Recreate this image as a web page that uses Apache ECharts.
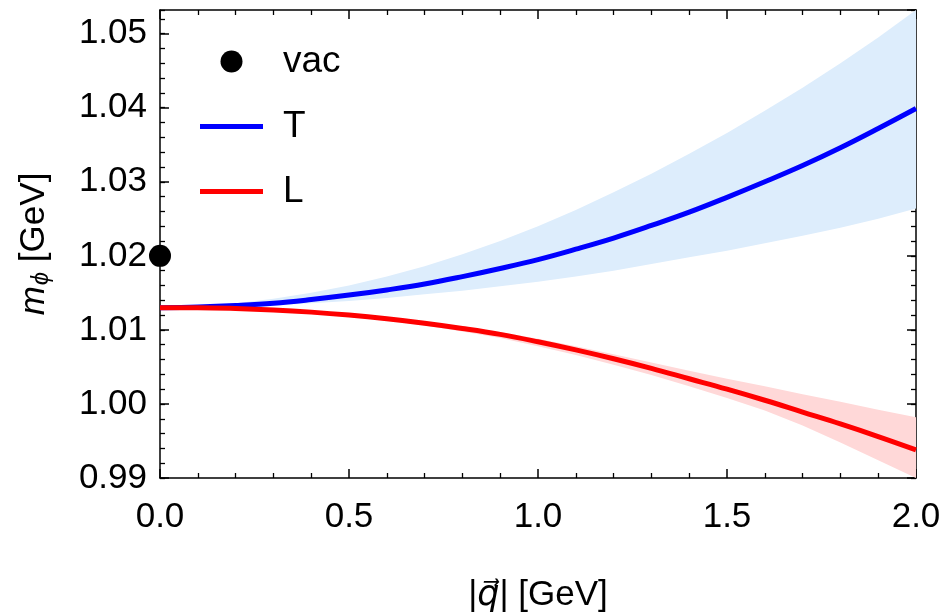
<!DOCTYPE html>
<html>
<head>
<meta charset="utf-8">
<script src="https://cdn.jsdelivr.net/npm/echarts@6/dist/echarts.min.js"></script>
<style>
  html, body { margin: 0; padding: 0; background: #fff; }
  #container { width: 945px; height: 612px; }
</style>
</head>
<body>
<div id="container"></div>
<script>
// momentum |q| in GeV
var qVals = [0.0, 0.1, 0.2, 0.3, 0.4, 0.5, 0.6, 0.7, 0.8, 0.9, 1.0,
             1.1, 1.2, 1.3, 1.4, 1.5, 1.6, 1.7, 1.8, 1.9, 2.0];
// transverse mode: central line + band
var mT     = [1.0130, 1.0131, 1.0133, 1.0136, 1.0141, 1.0147, 1.0154, 1.0162, 1.0172, 1.0183, 1.0195,
              1.0209, 1.0224, 1.0241, 1.0259, 1.0279, 1.0300, 1.0322, 1.0346, 1.0372, 1.0399];
var tUpper = [1.0130, 1.0132, 1.0136, 1.0142, 1.0150, 1.0160, 1.0172, 1.0186, 1.0202, 1.0220, 1.0240,
              1.0262, 1.0286, 1.0311, 1.0338, 1.0366, 1.0396, 1.0427, 1.0460, 1.0495, 1.0532];
var tLower = [1.0130, 1.0130, 1.0131, 1.0133, 1.0136, 1.0139, 1.0143, 1.0148, 1.0153, 1.0159, 1.0165,
              1.0172, 1.0180, 1.0189, 1.0198, 1.0207, 1.0217, 1.0227, 1.0238, 1.0250, 1.0264];
// longitudinal mode: central line + band
var mL     = [1.0130, 1.0130, 1.0129, 1.0127, 1.0124, 1.0120, 1.0115, 1.0109, 1.0102, 1.0094, 1.0084,
              1.0073, 1.0061, 1.0048, 1.0034, 1.0020, 1.0005, 0.9989, 0.9973, 0.9956, 0.9938];
var lUpper = [1.0130, 1.0130, 1.0129, 1.0128, 1.0125, 1.0121, 1.0117, 1.0111, 1.0104, 1.0097, 1.0088,
              1.0078, 1.0067, 1.0056, 1.0045, 1.0034, 1.0024, 1.0013, 1.0003, 0.9992, 0.9982];
var lLower = [1.0130, 1.0130, 1.0129, 1.0127, 1.0123, 1.0118, 1.0113, 1.0106, 1.0098, 1.0089, 1.0078,
              1.0066, 1.0053, 1.0039, 1.0024, 1.0008, 0.9991, 0.9971, 0.9948, 0.9924, 0.9900];
// vacuum mass
var vacQ = [0.0];
var vacM = [1.020];

var font = 'Liberation Sans';
var black = '#000';
var lineIcon = 'path://M0,0H63V5H0Z';

function pairs(xs, ys) {
    var out = [];
    for (var i = 0; i < xs.length; i++) out.push([xs[i], ys[i]]);
    return out;
}

// polygon between upper and lower curves
function bandRenderer(upper, lower, fill) {
    return function (params, api) {
        if (params.dataIndex !== 0) return;
        var pts = [];
        for (var i = 0; i < qVals.length; i++) pts.push(api.coord([qVals[i], upper[i]]));
        for (var j = qVals.length - 1; j >= 0; j--) pts.push(api.coord([qVals[j], lower[j]]));
        return {
            type: 'polygon',
            shape: { points: pts },
            style: { fill: fill, stroke: null }
        };
    };
}

function xAxisDef(pos, withLabels) {
    return {
        type: 'value', position: pos, min: 0, max: 2, interval: 0.5,
        axisLine: { show: true, onZero: false, lineStyle: { color: black, width: 1.5 } },
        axisTick: { show: true, inside: true, length: 9, lineStyle: { color: black, width: 1.5 } },
        minorTick: { show: true, splitNumber: 5, length: 5, lineStyle: { color: black, width: 1.3 } },
        axisLabel: {
            show: withLabels, margin: 22, color: black, fontSize: 35, fontFamily: font,
            formatter: function (v) { return v.toFixed(1); }
        },
        splitLine: { show: false },
        name: withLabels ? '|{q|q\u20D7}| [GeV]' : '',
        nameLocation: 'middle', nameGap: 100,
        nameTextStyle: {
            color: black, fontSize: 35, fontFamily: font,
            rich: { q: { fontSize: 35, fontStyle: 'italic', fontFamily: 'DejaVu Sans', color: black } }
        }
    };
}

function yAxisDef(pos, interval, tickLen, withLine, withLabels) {
    return {
        type: 'value', position: pos, min: 0.99, max: 1.0532, interval: interval,
        axisLine: { show: withLine, onZero: false, lineStyle: { color: black, width: 1.5 } },
        axisTick: { show: true, inside: true, length: tickLen, lineStyle: { color: black, width: withLine ? 1.5 : 1.3 } },
        axisLabel: {
            show: withLabels, margin: 13, color: black, fontSize: 35, fontFamily: font,
            showMaxLabel: false,
            formatter: function (v) { return v.toFixed(2); }
        },
        splitLine: { show: false },
        name: withLabels ? '{m|m}{s|\u03D5} [GeV]' : '',
        nameLocation: 'middle', nameGap: 107,
        nameTextStyle: {
            color: black, fontSize: 35, fontFamily: font,
            rich: {
                m: { fontSize: 35, fontStyle: 'italic', fontFamily: font, color: black },
                s: { fontSize: 24, fontStyle: 'italic', fontFamily: font, color: black, verticalAlign: 'bottom', padding: [14, 0, 0, 1] }
            }
        }
    };
}

var dom = document.getElementById('container');
var myChart = echarts.init(dom);

var option = {
    animation: false,
    backgroundColor: '#fff',
    grid: { left: 160, right: 29, top: 10, bottom: 134, containLabel: false, outerBoundsMode: 'none' },
    legend: {
        data: [
            { name: 'vac', icon: 'circle' },
            { name: 'T', icon: lineIcon },
            { name: 'L', icon: lineIcon }
        ],
        orient: 'vertical',
        left: 200, top: 43, padding: 0,
        itemWidth: 63, itemHeight: 22, itemGap: 28,
        textStyle: { fontSize: 37, fontFamily: font, color: black, padding: [0, 0, 0, 15] }
    },
    xAxis: [xAxisDef('bottom', true), xAxisDef('top', false)],
    yAxis: [
        yAxisDef('left', 0.01, 9, true, true),
        yAxisDef('left', 0.002, 5, false, false),
        yAxisDef('right', 0.01, 9, true, false),
        yAxisDef('right', 0.002, 5, false, false)
    ],
    series: [
        {
            name: 'Tband', type: 'custom', clip: true, silent: true,
            renderItem: bandRenderer(tUpper, tLower, '#ddedfc'),
            data: pairs(qVals, mT)
        },
        {
            name: 'Lband', type: 'custom', clip: true, silent: true,
            renderItem: bandRenderer(lUpper, lLower, '#ffd8d8'),
            data: pairs(qVals, mL)
        },
        {
            name: 'T', type: 'line', smooth: 0.4, symbol: 'none', showSymbol: false,
            color: '#0000ff', lineStyle: { color: '#0000ff', width: 5 },
            data: pairs(qVals, mT)
        },
        {
            name: 'L', type: 'line', smooth: 0.4, symbol: 'none', showSymbol: false,
            color: '#ff0000', lineStyle: { color: '#ff0000', width: 5 },
            data: pairs(qVals, mL)
        },
        {
            name: 'vac', type: 'scatter', symbol: 'circle', symbolSize: 22, clip: false,
            color: black, itemStyle: { color: black, opacity: 1 },
            data: pairs(vacQ, vacM)
        }
    ]
};

myChart.setOption(option, true);
</script>
</body>
</html>
